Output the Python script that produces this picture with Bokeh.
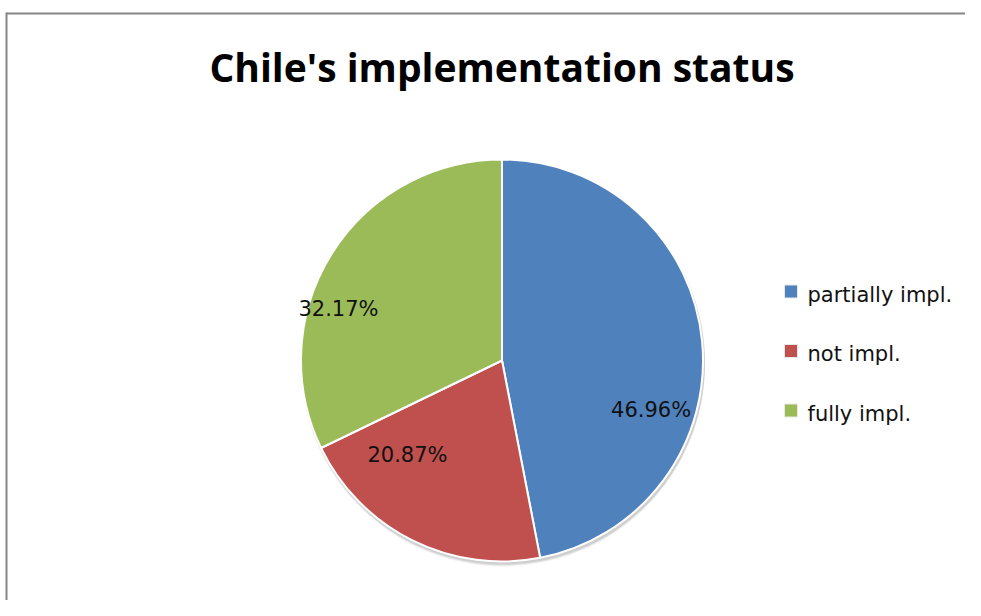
import math
from bokeh.plotting import figure
from bokeh.models import Range1d, Label, ColumnDataSource
from bokeh.core.properties import value
from bokeh.embed import file_html
from bokeh.resources import INLINE

# ---- data ----
categories = ["partially impl.", "not impl.", "fully impl."]
shares = [46.96, 20.87, 32.17]
colors = ["#4F81BD", "#C0504D", "#9BBB59"]
title_text = "Chile's implementation status"

# ---- layout (image pixel coordinates) ----
W, H = 965, 600
IMG_H = 616
def Y(yi):
    return IMG_H - yi

CX, CY = 501.5, Y(360)
R = 201
# label anchors: (angle ccw from +x in degrees, fraction of radius)
label_polar = [(-18.5, 0.782), (-135.0, 0.665), (162.5, 0.853)]

p = figure(width=W, height=H, output_backend="svg", toolbar_location=None,
           x_range=Range1d(0, W), y_range=Range1d(IMG_H - H, IMG_H),
           min_border=0, outline_line_color=None)
p.axis.visible = False
p.grid.visible = False
p.background_fill_color = "white"
p.border_fill_color = "white"

# chart border (gray frame)
p.line(x=[6, 6], y=[Y(12), Y(616)], line_color="#868686", line_width=2)
p.line(x=[6, 981], y=[Y(13), Y(13)], line_color="#868686", line_width=2)

# soft shadow
for off, a in [(4, 0.10), (3, 0.15), (2, 0.2)]:
    p.circle(x=[CX + 1], y=[CY - off], radius=R + 1, radius_units="screen",
             fill_color="#808080", fill_alpha=a, line_color=None)

# wedges
total = sum(shares)
starts, ends = [], []
cum = 0.0
for v in shares:
    starts.append(math.pi / 2 - 2 * math.pi * cum / total)
    cum += v
    ends.append(math.pi / 2 - 2 * math.pi * cum / total)

src = ColumnDataSource(dict(start=starts, end=ends, color=colors, cat=categories))
p.wedge(x=CX, y=CY, radius=R, radius_units="screen", start_angle="start",
        end_angle="end", direction="clock", fill_color="color",
        line_color="white", line_width=2, source=src)

# percentage labels
lx, ly, lt = [], [], []
for v, (ang, fr) in zip(shares, label_polar):
    lx.append(CX + fr * R * math.cos(math.radians(ang)))
    ly.append(CY + fr * R * math.sin(math.radians(ang)))
    lt.append(f"{v:.2f}%")
p.text(x=lx, y=ly, text=lt, text_font=value("DejaVu Sans"), text_font_size="21px",
       text_align="center", text_baseline="middle", text_color="#111111")

# legend (manual)
leg_x = 790.5
leg_y0 = 291
leg_step = 59.5
sq_y = [Y(leg_y0 + i * leg_step) for i in range(len(categories))]
p.rect(x=[leg_x] * len(categories), y=sq_y, width=13, height=13,
       width_units="screen", height_units="screen",
       fill_color=colors, line_color="#e8e8e8", line_width=1)
p.text(x=[807] * len(categories), y=[Y(leg_y0 + 3 + i * leg_step) for i in range(len(categories))],
       text=categories, text_font=value("DejaVu Sans"), text_font_size="21px",
       text_align="left", text_baseline="middle", text_color="#111111")

# title
p.add_layout(Label(x=501.5, y=Y(66), text=title_text, text_font="Open Sans",
                   text_font_style="bold", text_font_size="39px",
                   text_align="center", text_baseline="middle", text_color="#000000"))

open("out.html", "w").write(file_html(p, INLINE))
